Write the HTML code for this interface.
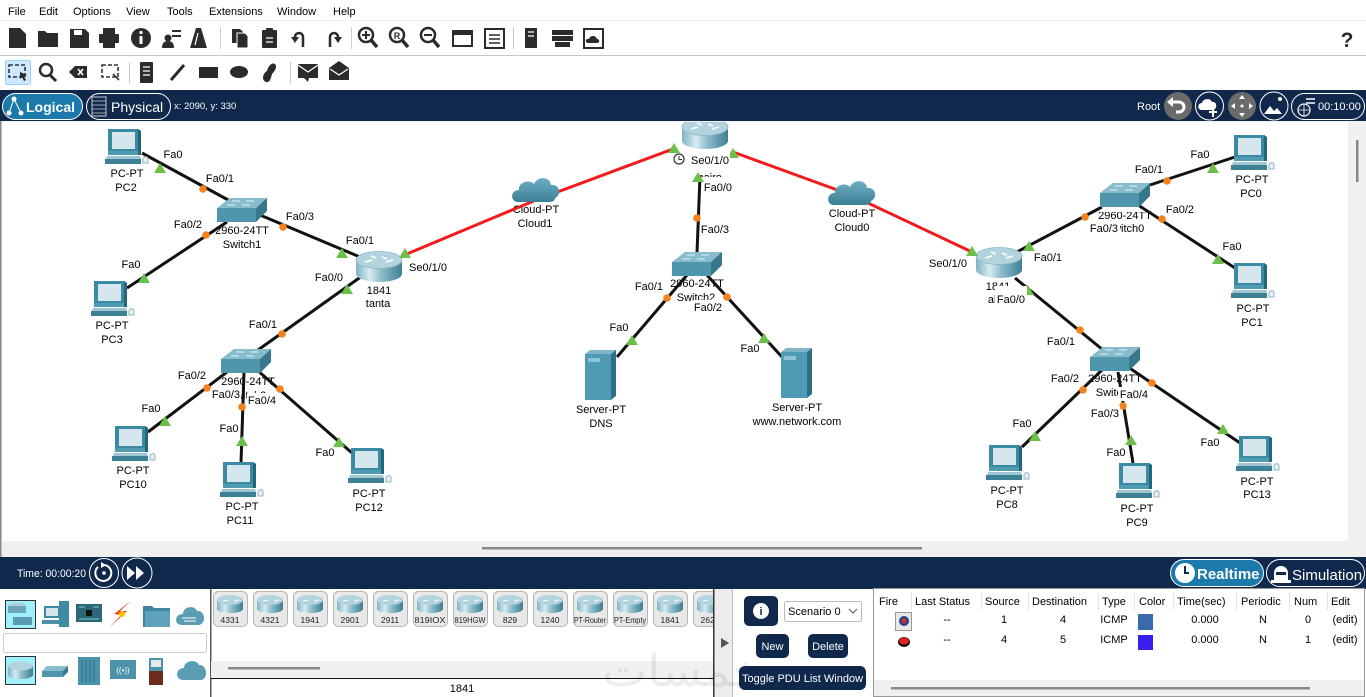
<!DOCTYPE html>
<html><head><meta charset="utf-8">
<style>
*{margin:0;padding:0}
body{width:1366px;height:697px;overflow:hidden;background:#fff;position:relative}
svg{position:absolute;left:0;top:0}
svg text{font-family:"Liberation Sans",Arial,sans-serif}
.t text{font-size:11px;fill:#000;text-anchor:middle}
.m text{font-size:11px;fill:#000}
.ic{fill:#2b2b2b}
.tb text{font-size:11px;fill:#000;text-anchor:middle}
.tl text{font-size:8.5px;fill:#222;text-anchor:middle}
</style></head><body>
<svg width="1366" height="697" viewBox="0 0 1366 697">
<defs>
<linearGradient id="rb" x1="0" x2="1" y1="0" y2="0">
<stop offset="0" stop-color="#7fb3c4"/><stop offset=".3" stop-color="#d8ebf1"/><stop offset=".55" stop-color="#8dbccb"/><stop offset="1" stop-color="#3f7f94"/>
</linearGradient>
<linearGradient id="cg" x1="0" y1="0" x2="0" y2="1"><stop offset="0" stop-color="#6eaec2"/><stop offset="1" stop-color="#3b7f96"/></linearGradient>
<g id="pc">
<path d="M4,0h30l3,2v24h-33z" fill="#3b8aa3"/>
<path d="M34,0l3,2v24h-3z" fill="#25657a"/>
<rect x="8" y="3" width="23" height="17" fill="#d6e6ed"/>
<rect x="4" y="22" width="30" height="4" fill="#4f9bb2"/>
<path d="M3,27h33l1,3h-35z" fill="#9ec6d3"/>
<rect x="1" y="30" width="36" height="5" fill="#3d8197"/>
<path d="M39,30c1,-3 5,-3 5,0v4h-5z" fill="#e8f0f3" stroke="#8fb4c2" stroke-width="1"/>
</g>
<g id="rt">
<path d="M0,9v14a23,8 0 0 0 46,0v-14z" fill="url(#rb)"/>
<ellipse cx="23" cy="9" rx="23" ry="8.5" fill="#b3d4df" stroke="#8ab6c5" stroke-width=".8"/>
<path d="M9,11l7,-2M30,11l7,-2M15,5l5,2M26,6l5,2" stroke="#fff" stroke-width="1.5"/>
</g>
<g id="sw">
<polygon points="13,0 50,0 39,10 0,10" fill="#86bccc"/>
<rect x="0" y="10" width="39" height="14" fill="#4f96ac"/>
<polygon points="39,10 50,0 50,13 39,24" fill="#37778c"/>
<path d="M15,3h8M29,3h8M10,7h8M25,7h8" stroke="#e6f2f6" stroke-width="1"/>
</g>
<path id="cl" d="M7,27c-8,0 -8,-12 1,-12c-1,-8 11,-11 15,-6c3,-8 16,-8 17,1c9,-1 11,10 4,13c0,3 -3,4 -6,4z" fill="url(#cg)"/>
<g id="sv">
<polygon points="0,4 5,0 31,0 26,4" fill="#7fb5c7"/>
<rect x="0" y="4" width="26" height="46" fill="#4f9ab4"/>
<polygon points="26,4 31,0 31,46 26,50" fill="#2d6f86"/>
<rect x="3" y="8" width="12" height="4" fill="#8ec3d4"/>
</g>
<polygon id="gt" points="-6,5 6,5 0,-5" fill="#6cbf48"/>
<circle id="od" r="3.8" fill="#f5821f"/>
<g id="tr">
<rect x="0.5" y="591.5" width="34" height="35" rx="5" fill="#e9e9e9" stroke="#b5b5b5"/>
<path d="M4,600v9a13,4 0 0 0 26,0v-9z" fill="url(#rb)"/>
<ellipse cx="17" cy="600" rx="13" ry="5" fill="#b3d4df"/>
<path d="M10,601l5,-1M21,601l5,-1" stroke="#fff" stroke-width="1"/>
</g>
<clipPath id="cv"><rect x="2" y="122" width="1346" height="419"/></clipPath>
<clipPath id="dl"><rect x="211" y="589" width="502" height="70"/></clipPath>
</defs>

<!-- menu bar -->
<rect x="0" y="0" width="1366" height="20" fill="#fff"/>
<rect x="0" y="20" width="1366" height="1" fill="#eef1f4"/>
<g class="m">
<text x="8" y="15">File</text><text x="39" y="15">Edit</text><text x="73" y="15">Options</text><text x="126" y="15">View</text><text x="167" y="15">Tools</text><text x="209" y="15">Extensions</text><text x="277" y="15">Window</text><text x="333" y="15">Help</text>
</g>
<rect x="0" y="55" width="1366" height="1" fill="#c8c8c8"/>

<!-- toolbar 1 -->
<g class="ic">
<path d="M9,28h11l6,6v14h-17z"/>
<path d="M38,31h7l2,2h11v14h-20z"/>
<path d="M70,29h15l4,4v15h-19z"/><rect x="74" y="30" width="8" height="5" fill="#fff"/>
<rect x="103" y="28" width="12" height="6"/><rect x="99" y="34" width="20" height="9" rx="1"/><rect x="103" y="43" width="12" height="5"/>
<circle cx="141" cy="38" r="10"/><rect x="139.5" y="36" width="3" height="8" fill="#fff"/><circle cx="141" cy="32.5" r="1.6" fill="#fff"/>
<circle cx="168" cy="38" r="3.5"/><path d="M162,48q0,-7 6,-7q6,0 6,7z"/><path d="M172,31h9M172,36h9" stroke="#2b2b2b" stroke-width="2"/>
<polygon points="196,28 190,48 207,48 201,28"/><path d="M198,33l-3,12" stroke="#fff" stroke-width="1.2"/>
<path d="M232,29h8l3,3v11h-11z"/><path d="M237,33h8l3,3v12h-11z" stroke="#fff" stroke-width="1"/>
<rect x="262" y="30" width="15" height="18" rx="1"/><rect x="266" y="28" width="7" height="4" rx="1"/><path d="M266,38h7M266,42h7" stroke="#fff" stroke-width="1.2"/>
<path d="M303,47v-10a4,4 0 0 0 -8,0" stroke="#2b2b2b" stroke-width="2.5" fill="none"/><path d="M291,37l4,6l4,-6z"/>
<path d="M330,47v-10a4,4 0 0 1 8,0" stroke="#2b2b2b" stroke-width="2.5" fill="none"/><path d="M334,37l4,6l4,-6z"/>
<circle cx="366" cy="35" r="7" fill="none" stroke="#2b2b2b" stroke-width="2.5"/><path d="M371,40l6,7" stroke="#2b2b2b" stroke-width="3.5"/><path d="M362,35h8M366,31v8" stroke="#2b2b2b" stroke-width="2"/>
<circle cx="397" cy="35" r="7" fill="none" stroke="#2b2b2b" stroke-width="2.5"/><path d="M402,40l6,7" stroke="#2b2b2b" stroke-width="3.5"/><text x="397" y="39" font-size="9" font-weight="bold" text-anchor="middle" fill="#2b2b2b">R</text>
<circle cx="428" cy="35" r="7" fill="none" stroke="#2b2b2b" stroke-width="2.5"/><path d="M433,40l6,7" stroke="#2b2b2b" stroke-width="3.5"/><path d="M424,35h8" stroke="#2b2b2b" stroke-width="2"/>
<rect x="453" y="31" width="19" height="15" fill="none" stroke="#2b2b2b" stroke-width="2"/><rect x="453" y="31" width="19" height="4"/>
<rect x="485" y="29" width="19" height="19" fill="none" stroke="#2b2b2b" stroke-width="2"/><path d="M489,35h11M489,39h11M489,43h11" stroke="#2b2b2b" stroke-width="1.6"/>
<rect x="525" y="28" width="12" height="20"/><path d="M528,32h6M528,36h6" stroke="#fff" stroke-width="1.2"/>
<rect x="552" y="30" width="21" height="5"/><rect x="552" y="36" width="21" height="5"/><rect x="555" y="42" width="15" height="5"/>
<rect x="584" y="29" width="19" height="19" fill="none" stroke="#2b2b2b" stroke-width="2"/><path d="M588,43c-3,0 -3,-5 1,-4c1,-4 7,-4 8,0c3,0 3,4 0,4z"/>
<text x="1347" y="47" font-size="21" font-weight="bold" text-anchor="middle" fill="#2b2b2b">?</text>
</g>
<rect x="220" y="27" width="1" height="22" fill="#ccc"/><rect x="351" y="27" width="1" height="22" fill="#ccc"/><rect x="513" y="27" width="1" height="22" fill="#ccc"/>

<!-- toolbar 2 -->
<rect x="5.5" y="60.5" width="25" height="24" rx="2" fill="#cde8ff" stroke="#99d1ff"/>
<g class="ic">
<rect x="9" y="65" width="16" height="12" fill="none" stroke="#333" stroke-width="1.6" stroke-dasharray="4,2"/><path d="M20,72l7,3l-3,1l2,4l-2,1l-2,-4l-2,2z"/>
<circle cx="46" cy="70" r="6" fill="none" stroke="#2b2b2b" stroke-width="2.5"/><path d="M50,75l6,6" stroke="#2b2b2b" stroke-width="3"/>
<path d="M69,72l6,-6h12v12h-12z"/><path d="M78,69l5,6M83,69l-5,6" stroke="#fff" stroke-width="1.6"/>
<rect x="102" y="65" width="16" height="12" fill="none" stroke="#333" stroke-width="1.6" stroke-dasharray="4,2"/><path d="M113,74l6,6" stroke="#333" stroke-width="1.6"/>
<rect x="140" y="62" width="13" height="21" rx="1"/><path d="M143,67h7M143,71h7M143,75h7" stroke="#fff" stroke-width="1.2"/>
<path d="M171,80l13,-15" stroke="#2b2b2b" stroke-width="3"/>
<rect x="199" y="67" width="19" height="11"/>
<ellipse cx="239" cy="72" rx="9" ry="6"/>
<path d="M266,82c-5,-2 -3,-9 1,-11c1,-4 4,-9 8,-7c3,3 -1,8 -3,10c-1,4 -2,9 -6,8z"/>
<rect x="298" y="64" width="20" height="14"/><path d="M298,65l10,7l10,-7" stroke="#fff" stroke-width="1.2" fill="none"/><path d="M304,78l4,4l1,-4z"/>
<path d="M329,68l10,-7l10,7v12h-20z"/><path d="M330,69l9,6l9,-6" stroke="#fff" stroke-width="1.2" fill="none"/>
</g>
<rect x="129" y="62" width="1" height="22" fill="#ccc"/><rect x="290" y="62" width="1" height="22" fill="#ccc"/>

<!-- logical bar -->
<rect x="0" y="90" width="1366" height="31" fill="#10284b"/>
<rect x="2.5" y="93.5" width="80" height="26" rx="13" fill="#1b7aab" stroke="#fff"/>
<g fill="#fff"><circle cx="9" cy="113" r="2.5"/><circle cx="14" cy="99" r="2.5"/><circle cx="21" cy="113" r="2.5"/></g>
<path d="M9,113L14,99L21,113" stroke="#fff" stroke-width="1" fill="none"/>
<text x="26" y="112" font-size="14" font-weight="bold" fill="#fff">Logical</text>
<rect x="86.5" y="93.5" width="84" height="26" rx="13" fill="#10284b" stroke="#fff"/>
<rect x="92" y="97" width="14" height="19" fill="none" stroke="#ccc" stroke-width="1"/><path d="M92,101h14M92,105h14M92,109h14M92,113h14" stroke="#ccc" stroke-width=".8"/>
<text x="111" y="112" font-size="14" fill="#fff">Physical</text>
<text x="174" y="109" font-size="9.5" fill="#fff">x: 2090, y: 330</text>
<text x="1137" y="110" font-size="11" fill="#fff">Root</text>
<circle cx="1178" cy="106" r="14" fill="#6b6b6b"/><path d="M1172,102h7a5,5 0 0 1 0,10h-3" stroke="#fff" stroke-width="3" fill="none"/><path d="M1167,102l6,-5v10z" fill="#fff"/>
<circle cx="1209.5" cy="106" r="14" fill="#10284b" stroke="#fff"/><path d="M1202,110c-5,0 -5,-7 0,-7c1,-5 9,-5 10,-1c5,-1 6,7 1,8z" fill="#fff"/><path d="M1213,108v9M1209,112h8" stroke="#fff" stroke-width="2"/>
<circle cx="1242" cy="106" r="14" fill="#6b6b6b"/><path d="M1242,95l-3,4h6zM1242,117l-3,-4h6zM1231,106l4,-3v6zM1253,106l-4,-3v6z" fill="#fff"/><circle cx="1242" cy="106" r="1.5" fill="#fff"/>
<circle cx="1274" cy="106" r="14" fill="#10284b" stroke="#fff"/><path d="M1264,114l6,-8l4,5l3,-3l5,6z" fill="#fff"/><circle cx="1280" cy="99" r="2" fill="#fff"/>
<rect x="1291.5" y="93.5" width="73" height="26" rx="13" fill="#10284b" stroke="#fff"/>
<circle cx="1304" cy="110" r="6" fill="none" stroke="#fff" stroke-width="1.2"/><path d="M1298,110h12M1304,104v12" stroke="#fff" stroke-width=".8"/><path d="M1306,99h9M1306,103h9" stroke="#fff" stroke-width="1.4"/>
<text x="1318" y="110" font-size="11" fill="#fff">00:10:00</text>

<!-- canvas -->
<rect x="0" y="121" width="1366" height="436" fill="#f0f0f0"/>
<rect x="0" y="121" width="1.5" height="436" fill="#8a8a8a"/>
<rect x="2" y="122" width="1346" height="419" fill="#fff"/>
<rect x="1356" y="140" width="2.5" height="42" fill="#888"/>
<rect x="482" y="547" width="440" height="2.5" fill="#888"/>

<g clip-path="url(#cv)">
<!-- device labels -->
<g class="t">
<text x="127" y="177">PC-PT</text><text x="126" y="191">PC2</text>
<text x="242" y="234">2960-24TT</text><text x="242" y="248">Switch1</text>
<text x="379" y="294">1841</text><text x="378" y="307">tanta</text>
<text x="112" y="329">PC-PT</text><text x="112" y="343">PC3</text>
<text x="248" y="385">2960-24TT</text><text x="247" y="399">Switch3</text>
<text x="133" y="474">PC-PT</text><text x="133" y="488">PC10</text>
<text x="242" y="510">PC-PT</text><text x="240" y="524">PC11</text>
<text x="369" y="497">PC-PT</text><text x="369" y="511">PC12</text>
<text x="710" y="181">cairo</text>
<text x="697" y="287">2960-24TT</text><text x="696" y="301">Switch2</text>
<text x="536" y="213">Cloud-PT</text><text x="535" y="227">Cloud1</text>
<text x="852" y="217">Cloud-PT</text><text x="852" y="231">Cloud0</text>
<text x="601" y="413">Server-PT</text><text x="601" y="427">DNS</text>
<text x="797" y="411">Server-PT</text><text x="797" y="425">www.network.com</text>
<text x="1125" y="219">2960-24TT</text><text x="1125" y="232">Switch0</text>
<text x="1252" y="183">PC-PT</text><text x="1251" y="197">PC0</text>
<text x="1253" y="312">PC-PT</text><text x="1252" y="326">PC1</text>
<text x="998" y="290">1841</text><text x="998" y="303">alex</text>
<text x="1115" y="382">2960-24TT</text><text x="1115" y="396">Switch4</text>
<text x="1007" y="494">PC-PT</text><text x="1007" y="508">PC8</text>
<text x="1137" y="512">PC-PT</text><text x="1137" y="526">PC9</text>
<text x="1257" y="485">PC-PT</text><text x="1257" y="498">PC13</text>
</g>
<rect x="688" y="177" width="46" height="10" fill="#fff"/>
<rect x="1098" y="210" width="52" height="2" fill="#fff"/>

<!-- links -->
<g stroke="#111" stroke-width="3" fill="none">
<path d="M142,153L230,201"/><path d="M227,222L127,288"/><path d="M260,215L360,257"/>
<path d="M362,276L258,350"/><path d="M227,372L148,432"/><path d="M244,372L241,463"/><path d="M257,370L352,453"/>
<path d="M700,176L697,253"/><path d="M687,275L617,357"/><path d="M706,274L782,357"/>
<path d="M1015,253L1102,207"/><path d="M1150,185L1235,157"/><path d="M1138,205L1235,268"/>
<path d="M1015,278L1103,350"/><path d="M1102,370L1022,447"/><path d="M1118,372L1133,463"/><path d="M1128,367L1240,443"/>
</g>
<g stroke="#f21b1b" stroke-width="3" fill="none">
<path d="M402,256L536,200L673,149"/><path d="M733,152L851,195L972,252"/>
</g>

<!-- devices -->
<use href="#pc" x="104" y="129"/><use href="#pc" x="90" y="281"/><use href="#pc" x="111" y="426"/>
<use href="#pc" x="219" y="462"/><use href="#pc" x="347" y="448"/>
<use href="#pc" x="1230" y="135"/><use href="#pc" x="1230" y="263"/><use href="#pc" x="985" y="445"/>
<use href="#pc" x="1115" y="463"/><use href="#pc" x="1235" y="436"/>
<use href="#sw" x="217" y="198"/><use href="#sw" x="221" y="349"/><use href="#sw" x="672" y="252"/>
<use href="#sw" x="1100" y="183"/><use href="#sw" x="1090" y="347"/>
<use href="#rt" x="356" y="251"/><use href="#rt" x="682" y="118"/><use href="#rt" x="976" y="247"/>
<use href="#cl" x="511" y="175"/><use href="#cl" x="827" y="178"/>
<use href="#sv" x="585" y="350"/><use href="#sv" x="781" y="348"/>

<!-- markers -->
<use href="#gt" x="160" y="168"/><use href="#gt" x="144" y="278"/><use href="#gt" x="342" y="253"/>
<use href="#gt" x="405" y="253"/><use href="#gt" x="347" y="289"/><use href="#gt" x="165" y="421"/>
<use href="#gt" x="242" y="441"/><use href="#gt" x="339" y="442"/><use href="#gt" x="674" y="148"/>
<use href="#gt" x="733" y="153"/><use href="#gt" x="698" y="177"/><use href="#gt" x="632" y="340"/>
<use href="#gt" x="764" y="338"/><use href="#gt" x="972" y="251"/><use href="#gt" x="1029" y="246"/>
<use href="#gt" x="1213" y="168"/><use href="#gt" x="1218" y="259"/><use href="#gt" x="1028" y="290"/>
<use href="#gt" x="1035" y="436"/><use href="#gt" x="1131" y="440"/><use href="#gt" x="1223" y="429"/>
<use href="#od" x="203" y="189"/><use href="#od" x="206" y="235"/><use href="#od" x="283" y="227"/>
<use href="#od" x="282" y="334"/><use href="#od" x="207" y="388"/><use href="#od" x="280" y="389"/>
<use href="#od" x="242" y="407"/><use href="#od" x="697" y="218"/><use href="#od" x="667" y="298"/>
<use href="#od" x="727" y="297"/><use href="#od" x="1085" y="217"/><use href="#od" x="1167" y="181"/>
<use href="#od" x="1162" y="219"/><use href="#od" x="1080" y="330"/><use href="#od" x="1083" y="390"/>
<use href="#od" x="1152" y="383"/><use href="#od" x="1123" y="406"/>

<!-- white label backgrounds -->
<g fill="#fff">
<rect x="211" y="387" width="30" height="14"/><rect x="247" y="393" width="30" height="14"/>
<rect x="689" y="153" width="41" height="13"/><rect x="704" y="182" width="29" height="12"/>
<rect x="693" y="300" width="31" height="14"/>
<rect x="1089" y="222" width="31" height="13"/>
<rect x="995" y="286" width="32" height="20"/>
<rect x="1118" y="387" width="31" height="14"/><rect x="1090" y="406" width="30" height="14"/>
</g>
<circle cx="679" cy="159" r="5" fill="#fff" stroke="#333" stroke-width="1.2"/><path d="M679,156v3.5h3" stroke="#333" stroke-width="1" fill="none"/>

<!-- port labels -->
<g class="t">
<text x="173" y="158">Fa0</text><text x="220" y="182">Fa0/1</text><text x="188" y="228">Fa0/2</text>
<text x="300" y="220">Fa0/3</text><text x="360" y="244">Fa0/1</text><text x="428" y="271">Se0/1/0</text>
<text x="329" y="281">Fa0/0</text><text x="131" y="268">Fa0</text><text x="263" y="328">Fa0/1</text>
<text x="192" y="379">Fa0/2</text><text x="226" y="398">Fa0/3</text><text x="262" y="404">Fa0/4</text>
<text x="151" y="412">Fa0</text><text x="229" y="432">Fa0</text><text x="325" y="456">Fa0</text>
<text x="710" y="164">Se0/1/0</text><text x="718" y="191">Fa0/0</text><text x="715" y="233">Fa0/3</text>
<text x="649" y="290">Fa0/1</text><text x="708" y="311">Fa0/2</text>
<text x="619" y="331">Fa0</text><text x="750" y="352">Fa0</text>
<text x="948" y="267">Se0/1/0</text><text x="1048" y="261">Fa0/1</text><text x="1104" y="232">Fa0/3</text>
<text x="1149" y="173">Fa0/1</text><text x="1200" y="158">Fa0</text><text x="1180" y="213">Fa0/2</text>
<text x="1232" y="250">Fa0</text><text x="1011" y="303">Fa0/0</text><text x="1061" y="345">Fa0/1</text>
<text x="1065" y="382">Fa0/2</text><text x="1134" y="398">Fa0/4</text><text x="1105" y="417">Fa0/3</text>
<text x="1022" y="427">Fa0</text><text x="1116" y="456">Fa0</text><text x="1210" y="446">Fa0</text>
</g>
</g>

<!-- bottom bar -->
<rect x="0" y="557" width="1366" height="32" fill="#10284b"/>
<text x="17" y="577" font-size="11" fill="#fff" textLength="69" lengthAdjust="spacingAndGlyphs">Time: 00:00:20</text>
<circle cx="104" cy="573" r="14.5" fill="#10284b" stroke="#fff"/>
<path d="M98,567a8,8 0 1 0 6,-2" stroke="#fff" stroke-width="2" fill="none"/><path d="M101,562l5,3l-5,3z" fill="#fff"/><circle cx="104" cy="573" r="1.8" fill="#fff"/>
<circle cx="137" cy="573" r="15" fill="#10284b" stroke="#fff"/>
<path d="M127,566l8,7l-8,7zM136,566l8,7l-8,7z" fill="#fff"/>
<rect x="1170.5" y="559.5" width="93" height="27" rx="13.5" fill="#1b7aab" stroke="#fff"/>
<circle cx="1185" cy="573" r="10" fill="#fff"/><path d="M1185,566v7h4" stroke="#10284b" stroke-width="2" fill="none"/>
<text x="1197" y="579" font-size="15" font-weight="bold" fill="#fff">Realtime</text>
<rect x="1266.5" y="559.5" width="98" height="27" rx="13.5" fill="#10284b" stroke="#fff"/>
<path d="M1274,583v-10a7,7 0 0 1 14,0v10z" fill="#fff"/><rect x="1276" y="572" width="10" height="3" fill="#10284b"/><rect x="1271" y="580" width="20" height="3" fill="#fff"/>
<text x="1292" y="580" font-size="15" fill="#fff">Simulation</text>

<!-- bottom panel -->
<rect x="0" y="589" width="1366" height="108" fill="#fff"/>
<!-- left categories -->
<rect x="5.5" y="600.5" width="30" height="28" fill="#9ef0fb" stroke="#333"/>
<ellipse cx="17" cy="606" rx="9" ry="3.5" fill="#a9cfdb"/><rect x="8" y="606" width="18" height="7" fill="#6aa5b8"/><rect x="13" y="617" width="19" height="8" fill="#5a9ab0"/>
<rect x="59" y="601" width="10" height="26" fill="#3d8aa3"/><rect x="44" y="606" width="16" height="12" fill="#3d8aa3"/><rect x="46" y="608" width="12" height="8" fill="#d5e5ec"/><rect x="42" y="620" width="18" height="4" fill="#4b8fa5"/>
<rect x="76" y="604" width="26" height="18" fill="#2d6677"/><rect x="86" y="610" width="6" height="6" fill="#111"/><path d="M79,607h6M93,607h6M79,619h20" stroke="#7cc" stroke-width="1"/>
<polygon points="131,601 114,614 121,615 109,628 127,611 120,611" fill="#f0421e"/><circle cx="122" cy="614" r="3" fill="#ffc300"/>
<path d="M143,606h9l2,2h16v19h-27z" fill="#3d86a0"/><path d="M145,611h25v16h-25z" fill="#5ea3bb"/>
<path d="M182,625c-8,0 -8,-11 1,-11c0,-8 12,-9 14,-3c8,-1 10,12 2,14z" fill="#5b9db3"/><path d="M182,618h14M184,621h12" stroke="#fff" stroke-width="1"/>
<rect x="3.5" y="633.5" width="203" height="19" rx="2" fill="#fff" stroke="#ccc"/>
<rect x="5.5" y="656.5" width="30" height="28" fill="#9ef0fb" stroke="#333"/>
<path d="M8,666v9a12.5,4 0 0 0 25,0v-9z" fill="url(#rb)"/><ellipse cx="20.5" cy="666" rx="12.5" ry="4.5" fill="#b3d4df"/>
<polygon points="47,666 68,666 63,671 42,671" fill="#86bccc"/><rect x="42" y="671" width="21" height="6" fill="#4f96ac"/><polygon points="63,671 68,666 68,672 63,677" fill="#37778c"/>
<rect x="78" y="657" width="22" height="28" fill="#4b93aa"/><path d="M82,660v22M86,660v22M90,660v22M94,660v22" stroke="#2e6f84" stroke-width="1"/>
<rect x="110" y="660" width="26" height="19" fill="#4b93aa"/><text x="123" y="673" font-size="8" fill="#fff" text-anchor="middle">((•))</text>
<rect x="149" y="658" width="14" height="13" fill="#4b93aa"/><rect x="151" y="660" width="10" height="7" fill="#e8e8e8"/><rect x="149" y="671" width="14" height="14" fill="#6b2c1c"/>
<path d="M183,680c-8,0 -8,-12 1,-12c0,-8 13,-9 15,-3c8,-1 10,14 2,15z" fill="#5b9db3"/>

<!-- device list -->
<rect x="210" y="589" width="1.5" height="108" fill="#555"/>
<g clip-path="url(#dl)">
<use href="#tr" x="213"/><use href="#tr" x="253"/><use href="#tr" x="293"/><use href="#tr" x="333"/>
<use href="#tr" x="373"/><use href="#tr" x="413"/><use href="#tr" x="453"/><use href="#tr" x="493"/>
<use href="#tr" x="533"/><use href="#tr" x="573"/><use href="#tr" x="613"/><use href="#tr" x="653"/><use href="#tr" x="693"/>
<g class="tl">
<text x="230" y="623">4331</text><text x="270" y="623">4321</text><text x="310" y="623">1941</text><text x="350" y="623">2901</text>
<text x="390" y="623">2911</text><text x="430" y="623" textLength="31" lengthAdjust="spacingAndGlyphs">819IOX</text>
<text x="470" y="623" textLength="31" lengthAdjust="spacingAndGlyphs">819HGW</text><text x="510" y="623">829</text>
<text x="550" y="623">1240</text><text x="590" y="623" textLength="32" lengthAdjust="spacingAndGlyphs">PT-Router</text>
<text x="630" y="623" textLength="32" lengthAdjust="spacingAndGlyphs">PT-Empty</text><text x="670" y="623">1841</text><text x="710" y="623">2620</text>
</g>
</g>
<rect x="211" y="661" width="502" height="17" fill="#f0f0f0"/>
<rect x="228" y="667" width="92" height="2.5" fill="#888"/>
<rect x="211" y="678" width="502" height="1" fill="#111"/>
<text x="462" y="692" font-size="11" text-anchor="middle" fill="#000">1841</text>
<rect x="713" y="589" width="1.5" height="108" fill="#333"/>
<rect x="714.5" y="589" width="18" height="108" fill="#ececec"/>
<rect x="732" y="589" width="1" height="108" fill="#bbb"/>
<path d="M721,638l8,5l-8,5z" fill="#555"/>

<text x="682" y="686" font-size="44" fill="#000" fill-opacity="0.07" text-anchor="middle" textLength="160" lengthAdjust="spacingAndGlyphs" font-family="DejaVu Sans, sans-serif">خمسات</text>

<!-- scenario -->
<rect x="744" y="596" width="34" height="30" rx="5" fill="#10284b"/><circle cx="761" cy="611" r="8" fill="#fff"/><text x="761" y="615" font-size="11" font-weight="bold" text-anchor="middle" fill="#10284b">i</text>
<rect x="784.5" y="601.5" width="77" height="20" rx="2" fill="#fff" stroke="#bbb"/>
<text x="788" y="615" font-size="11" fill="#000">Scenario 0</text><path d="M849,609l4,4l4,-4" stroke="#555" stroke-width="1" fill="none"/>
<rect x="756" y="634" width="33" height="24" rx="5" fill="#10284b"/><text x="772.5" y="650" font-size="11" text-anchor="middle" fill="#fff">New</text>
<rect x="808" y="634" width="40" height="24" rx="5" fill="#10284b"/><text x="828" y="650" font-size="11" text-anchor="middle" fill="#fff">Delete</text>
<rect x="739" y="666" width="127" height="24" rx="6" fill="#10284b"/><text x="802.5" y="682" font-size="11" text-anchor="middle" fill="#fff">Toggle PDU List Window</text>

<!-- PDU table -->
<rect x="873.5" y="588.5" width="491" height="108" fill="#fff" stroke="#999"/>
<g fill="#e4e4e4"><rect x="911" y="592" width="1" height="18"/><rect x="981" y="592" width="1" height="18"/><rect x="1028" y="592" width="1" height="18"/><rect x="1098" y="592" width="1" height="18"/><rect x="1134" y="592" width="1" height="18"/><rect x="1173" y="592" width="1" height="18"/><rect x="1236" y="592" width="1" height="18"/><rect x="1289" y="592" width="1" height="18"/><rect x="1327" y="592" width="1" height="18"/></g>
<g font-size="11" fill="#000">
<text x="879" y="605">Fire</text><text x="915" y="605">Last Status</text><text x="985" y="605">Source</text><text x="1032" y="605">Destination</text>
<text x="1102" y="605">Type</text><text x="1139" y="605">Color</text><text x="1177" y="605">Time(sec)</text><text x="1241" y="605">Periodic</text>
<text x="1294" y="605">Num</text><text x="1331" y="605">Edit</text>
</g>
<g class="tb">
<text x="947" y="623">--</text><text x="1004" y="623">1</text><text x="1063" y="623">4</text><text x="1114" y="623">ICMP</text><text x="1205" y="623">0.000</text><text x="1263" y="623">N</text><text x="1308" y="623">0</text><text x="1345" y="623">(edit)</text>
<text x="947" y="643">--</text><text x="1004" y="643">4</text><text x="1063" y="643">5</text><text x="1114" y="643">ICMP</text><text x="1205" y="643">0.000</text><text x="1263" y="643">N</text><text x="1308" y="643">1</text><text x="1345" y="643">(edit)</text>
</g>
<rect x="895.5" y="612.5" width="16" height="18" fill="#e8e8e8" stroke="#999"/><circle cx="904" cy="621" r="5" fill="#2a3f8a"/><circle cx="904" cy="621" r="2.5" fill="#c33"/>
<ellipse cx="904" cy="642" rx="6" ry="5" fill="#111"/><ellipse cx="904" cy="641" rx="5" ry="3.5" fill="#e02020"/>
<rect x="1138" y="614" width="15" height="16" fill="#3a6aae"/>
<rect x="1138" y="635" width="15" height="15" fill="#3a1ef0"/>
<rect x="874" y="680" width="490" height="16" fill="#f0f0f0"/>
<rect x="891" y="687" width="419" height="2.5" fill="#888"/>
</svg>
</body></html>
